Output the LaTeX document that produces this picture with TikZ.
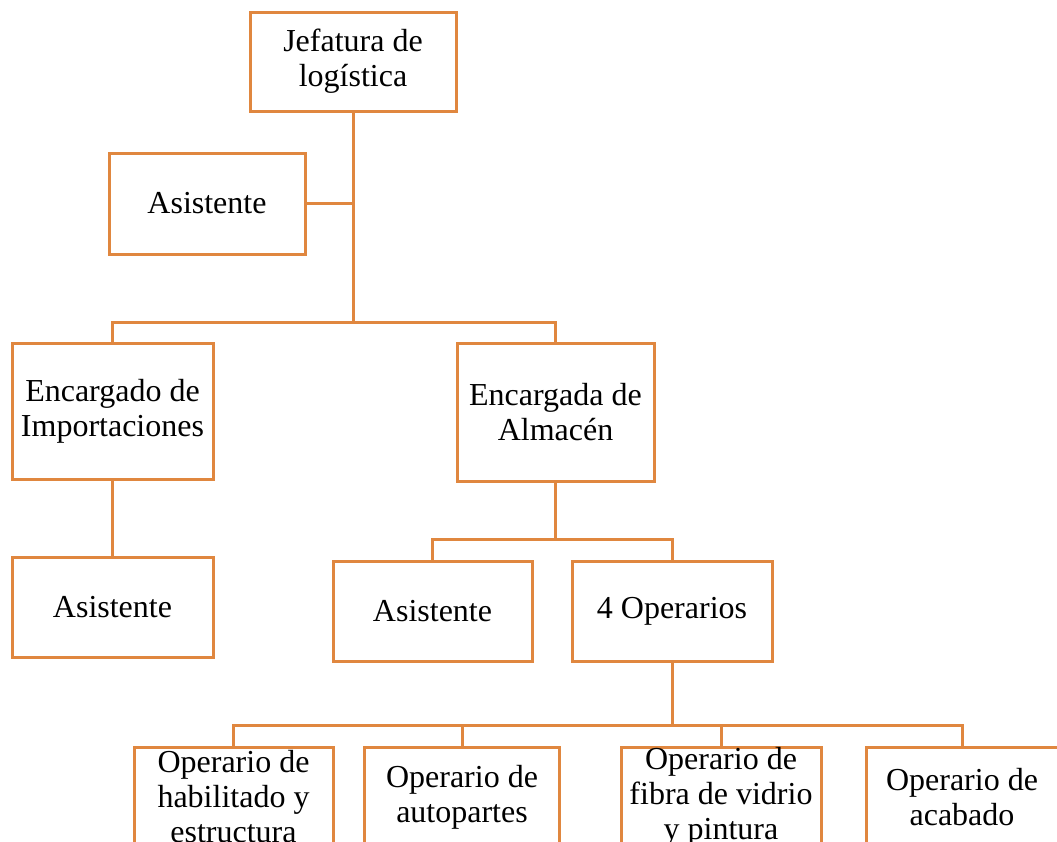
\documentclass[tikz,border=0pt]{standalone}
\usepackage{fontspec}
\setmainfont{Liberation Serif}
\definecolor{org}{HTML}{E0873F}
\begin{document}
\begin{tikzpicture}[x=1pt,y=-1pt,
  box/.style={draw=org,line width=3pt,fill=white,align=center,inner sep=0pt,
    font=\fontsize{32}{35}\selectfont,minimum height=100pt},
  link/.style={draw=org,line width=3pt}]
\useasboundingbox (0,0) rectangle (1057,841);
\clip (0,0) rectangle (1057,841);
\node[box,minimum width=206pt,minimum height=99pt] (jef) at (353,61.5) {Jefatura de\\log\'istica};
\node[box,minimum width=196pt,minimum height=101pt] (asis1) at (207,203.5) {Asistente};
\node[box,minimum width=201pt,minimum height=136pt] (imp) at (112.5,411) {Encargado de\\Importaciones};
\node[box,minimum width=201pt] (asis2) at (112.5,607) {Asistente};
\node[box,minimum width=197pt,minimum height=138pt] (alm) at (555.5,412) {Encargada de\\Almac\'en};
\node[box,minimum width=199pt] (asis3) at (432.5,611) {Asistente};
\node[box,minimum width=200pt] (oper4) at (672,611) {4 Operarios};
\node[box,minimum width=199pt] (o1) at (233.5,797) {Operario de\\habilitado y\\estructura};
\node[box,minimum width=195pt] (o2) at (462,797) {Operario de\\autopartes};
\node[box,minimum width=200pt] (o3) at (721,797) {Operario de\\fibra de vidrio\\y pintura};
\node[box,minimum width=192pt] (o4) at (962,797) {Operario de\\acabado};
\coordinate (b1) at (353,322);
\coordinate (b2) at (555.5,539);
\coordinate (b3) at (672,725);
\draw[link] (jef.south) -- (b1);
\draw[link] (asis1.east) -- (asis1.east -| b1);
\draw[link] (b1) -| (imp.north);
\draw[link] (b1) -| (alm.north);
\draw[link] (imp.south) -- (asis2.north);
\draw[link] (alm.south) -- (b2);
\draw[link] (b2) -| (asis3.north);
\draw[link] (b2) -| (oper4.north);
\draw[link] (oper4.south) -- (b3);
\draw[link] (b3) -| (o1.north);
\draw[link] (b3) -| (o2.north);
\draw[link] (b3) -| (o3.north);
\draw[link] (b3) -| (o4.north);
\end{tikzpicture}
\end{document}
